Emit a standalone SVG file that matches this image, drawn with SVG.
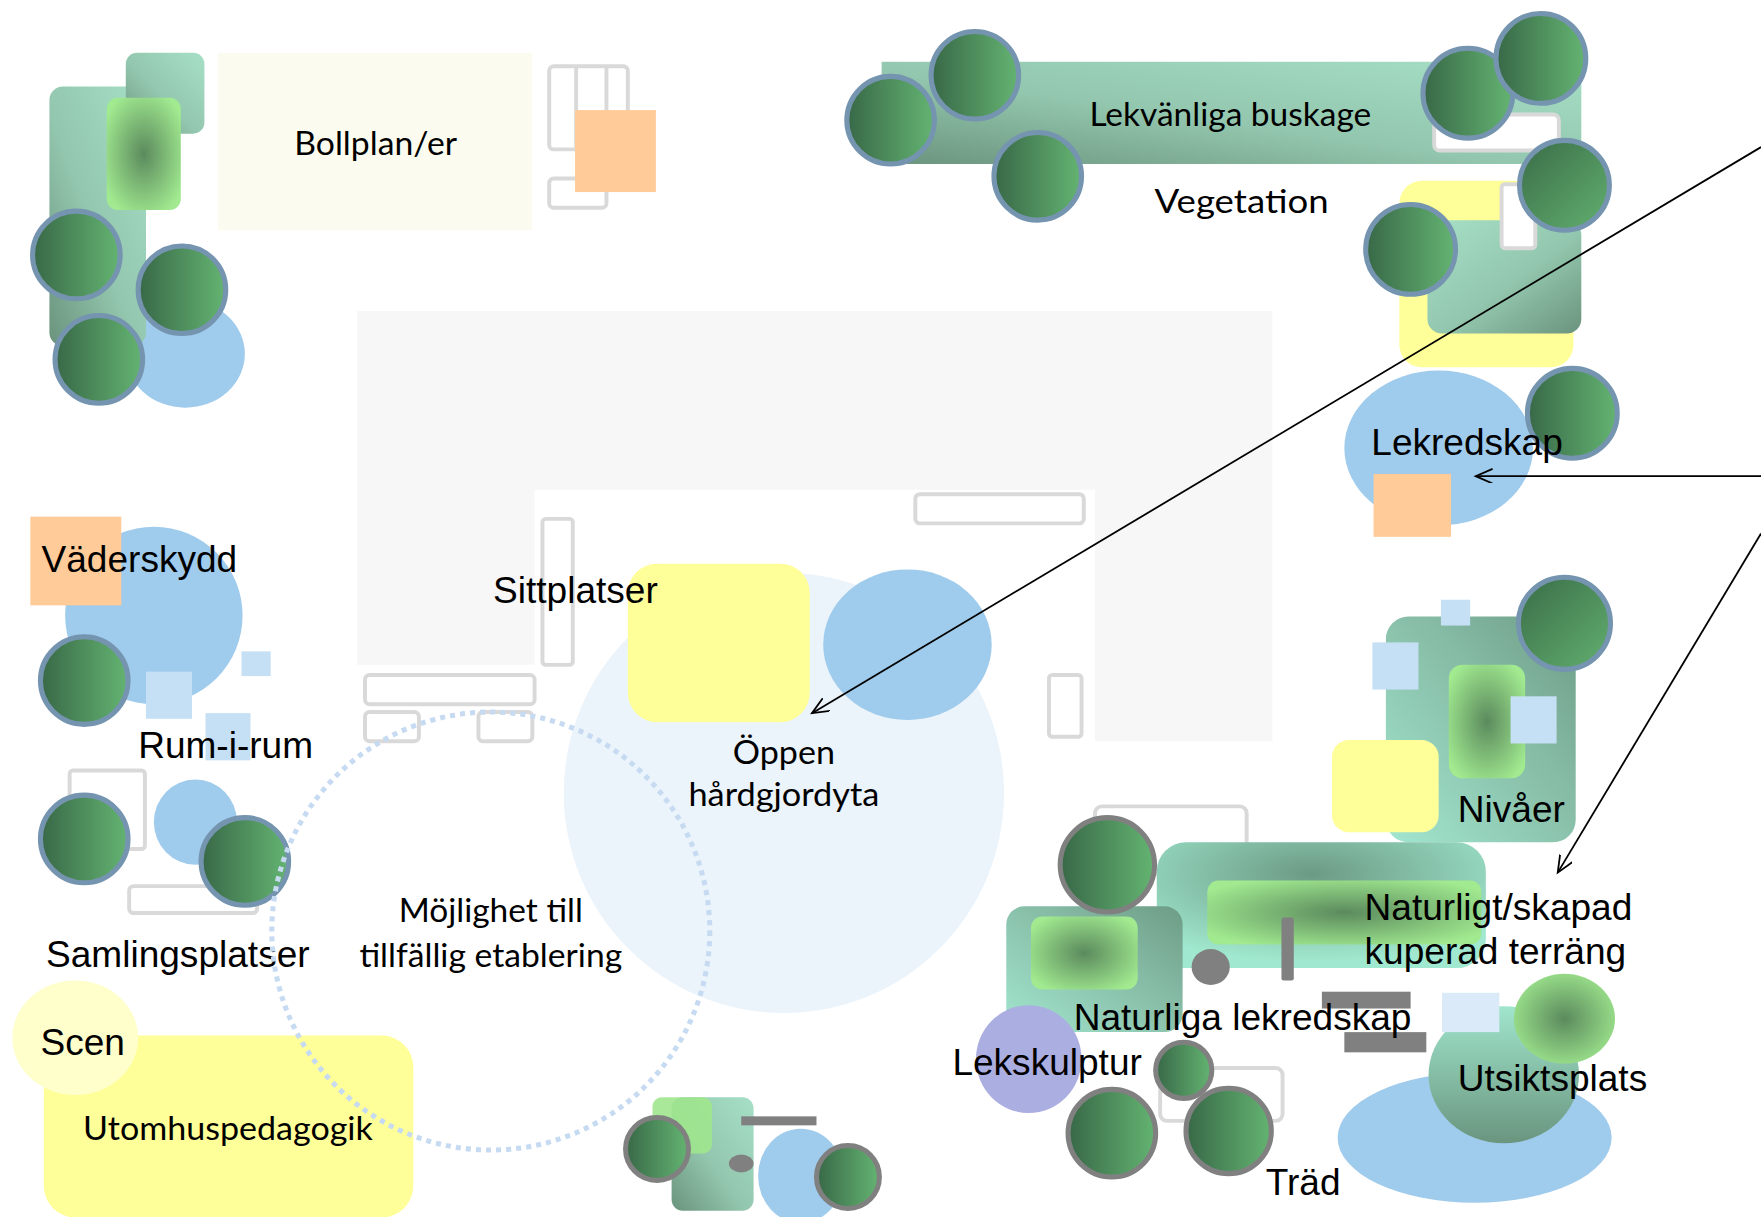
<svg xmlns="http://www.w3.org/2000/svg" width="1761" height="1217" viewBox="0 0 1761 1217">
<defs>
<linearGradient id="treeH" x1="0" y1="0" x2="1" y2="0"><stop offset="0" stop-color="#386847"/><stop offset="1" stop-color="#64b472"/></linearGradient>
<linearGradient id="treeD" x1="0" y1="0" x2="1" y2="1"><stop offset="0" stop-color="#3a6c47"/><stop offset="1" stop-color="#62b070"/></linearGradient>
<linearGradient id="mintTR" x1="1" y1="0" x2="0" y2="1"><stop offset="0" stop-color="#a6e0c7"/><stop offset="0.55" stop-color="#93c6ae"/><stop offset="1" stop-color="#6a937c"/></linearGradient>
<linearGradient id="mintTL" x1="0" y1="0" x2="1" y2="1"><stop offset="0" stop-color="#a6e0c7"/><stop offset="0.55" stop-color="#93c6ae"/><stop offset="1" stop-color="#6a937c"/></linearGradient>
<linearGradient id="mintBL" x1="0" y1="1" x2="1" y2="0"><stop offset="0" stop-color="#a2e6cf"/><stop offset="0.6" stop-color="#86bba5"/><stop offset="1" stop-color="#6d9c86"/></linearGradient>
<linearGradient id="mintV" x1="0" y1="0" x2="0" y2="1"><stop offset="0" stop-color="#a0e5cc"/><stop offset="1" stop-color="#6a957f"/></linearGradient>
<radialGradient id="greenRad" cx="0.5" cy="0.5" r="0.6"><stop offset="0" stop-color="#5b8a5d"/><stop offset="1" stop-color="#a1ea90"/></radialGradient>
<radialGradient id="mintRad" cx="0.47" cy="0.25" r="0.7"><stop offset="0" stop-color="#6c9a84"/><stop offset="1" stop-color="#a0e8cf"/></radialGradient>
<marker id="arr" markerUnits="userSpaceOnUse" markerWidth="18" markerHeight="14" refX="15" refY="6.5" orient="auto"><path d="M0,0 L15,6.5 L0,13" fill="none" stroke="#000" stroke-width="1.6"/></marker>
<style>
.tree{fill:url(#treeH);stroke:#7594b0;stroke-width:4.5}
.treed{fill:url(#treeD);stroke:#7594b0;stroke-width:4.5}
.treeg{fill:url(#treeH);stroke:#808080;stroke-width:4.5}
.out{fill:#fff;stroke:#d9d9d9;stroke-width:3.5}
.blue{fill:#9fcbec}
.lb{fill:#c5dff4}
.yel{fill:#ffff99}
.org{fill:#ffcc99}
.bar{fill:#808080}
.a{font-family:"Liberation Sans",Arial,sans-serif;font-size:33px;fill:#000}
.g{font-family:Lato,"Gill Sans","Open Sans",sans-serif;font-size:30px;fill:#000}
.conn{stroke:#000;stroke-width:1.6;fill:none;marker-end:url(#arr)}
</style>
</defs>
<rect width="1761" height="1217" fill="#fff"/>
<g transform="scale(1.12309)">
<g id="hardyta-bakgrund"><path d="M318,277 H1133 V660 H975 V436 H476 V592 H318 Z" fill="#f7f7f7"/></g>

<g id="vegetation-vanster">
<ellipse class="blue" cx="165" cy="315" rx="53" ry="48"/>
<rect x="44" y="77" width="86" height="231" rx="12" fill="url(#mintTR)"/>
<rect x="112" y="47" width="70" height="72" rx="10" fill="url(#mintTR)"/>
<rect x="95" y="87" width="66" height="100" rx="10" fill="url(#greenRad)"/>
<circle class="tree" cx="68" cy="227" r="39"/>
<circle class="tree" cx="162" cy="258" r="39"/>
<circle class="tree" cx="88" cy="320" r="39"/>
</g>

<g id="bollplan">
<rect x="194" y="47" width="280" height="158" fill="#fbfcef"/>
<text class="g" x="262" y="138" textLength="145" lengthAdjust="spacingAndGlyphs">Bollplan/er</text>
</g>

<g id="bankar-bollplan">
<rect class="out" x="489" y="59" width="70" height="74" rx="4"/>
<line x1="513" y1="59" x2="513" y2="133" stroke="#d9d9d9" stroke-width="3.5"/>
<line x1="540" y1="59" x2="540" y2="133" stroke="#d9d9d9" stroke-width="3.5"/>
<rect class="out" x="489" y="159" width="51" height="26" rx="4"/>
<rect class="org" x="512" y="98" width="72" height="73"/>
</g>

<g id="lekvanliga-buskage">
<rect x="785" y="55" width="623" height="91" fill="url(#mintTR)"/>
<rect class="out" x="1277" y="102" width="111" height="32" rx="5"/>
<rect class="yel" x="1246" y="161" width="155" height="166" rx="20"/>
<rect x="1271" y="196" width="137" height="101" rx="13" fill="url(#mintTL)"/>
<rect class="out" x="1337" y="164" width="30" height="57" rx="3"/>
<circle class="tree" cx="793" cy="107" r="39"/>
<circle class="tree" cx="868" cy="67" r="39"/>
<circle class="tree" cx="924" cy="157" r="39"/>
<circle class="tree" cx="1307" cy="83" r="40"/>
<circle class="tree" cx="1372" cy="52" r="40"/>
<circle class="treed" cx="1393" cy="165" r="40"/>
<circle class="tree" cx="1256" cy="222" r="40"/>
<text class="g" x="970" y="112" textLength="251" lengthAdjust="spacingAndGlyphs">Lekvänliga buskage</text>
<text class="g" x="1028" y="190" textLength="155" lengthAdjust="spacingAndGlyphs">Vegetation</text>
</g>

<g id="lekredskap">
<ellipse class="blue" cx="1281" cy="399" rx="84" ry="69"/>
<rect class="org" x="1223" y="422" width="69" height="56"/>
<circle class="tree" cx="1400" cy="368" r="40"/>
<text class="a" x="1221" y="405">Lekredskap</text>
</g>

<g id="oppen-hardgjordyta">
<circle cx="698" cy="706" r="196" fill="#ebf3fb"/>
<rect class="yel" x="559" y="502" width="162" height="141" rx="26"/>
<ellipse class="blue" cx="808" cy="574" rx="75" ry="67"/>
<text class="g" x="698" y="680" text-anchor="middle" font-size="28" textLength="91" lengthAdjust="spacingAndGlyphs">Öppen</text>
<text class="g" x="698" y="718" text-anchor="middle" font-size="28" textLength="170" lengthAdjust="spacingAndGlyphs">hårdgjordyta</text>
</g>

<g id="sittplatser">
<rect class="out" x="483" y="462" width="27" height="130" rx="3"/>
<rect class="out" x="325" y="601" width="151" height="26" rx="4"/>
<rect class="out" x="325" y="634" width="48" height="26" rx="4"/>
<rect class="out" x="426" y="634" width="48" height="26" rx="4"/>
<rect class="out" x="815" y="440" width="150" height="26" rx="4"/>
<rect class="out" x="934" y="601" width="29" height="55" rx="3"/>
<text class="a" x="439" y="537">Sittplatser</text>
</g>

<g id="vaderskydd">
<circle class="blue" cx="137" cy="548" r="79"/>
<rect class="org" x="27" y="460" width="81" height="79"/>
<circle class="tree" cx="75" cy="606" r="39"/>
<text class="a" x="37" y="509">Väderskydd</text>
</g>

<g id="rum-i-rum">
<rect class="lb" x="130" y="598" width="41" height="42"/>
<rect class="lb" x="215" y="580" width="26" height="22"/>
<rect class="lb" x="183" y="635" width="40" height="42"/>
<text class="a" x="123" y="675">Rum-i-rum</text>
</g>

<g id="samlingsplatser">
<rect class="out" x="62" y="686" width="67" height="70" rx="3"/>
<rect class="out" x="115" y="789" width="114" height="24" rx="4"/>
<ellipse class="blue" cx="174" cy="732" rx="37" ry="38"/>
<circle class="tree" cx="75" cy="747" r="39"/>
<circle class="tree" cx="218" cy="767" r="39"/>
<text class="a" x="41" y="861">Samlingsplatser</text>
</g>

<g id="scen-utomhuspedagogik">
<rect class="yel" x="39" y="922" width="329" height="162" rx="28"/>
<ellipse cx="67" cy="924" rx="56" ry="51" fill="#ffffcc"/>
<text class="a" x="36" y="939">Scen</text>
<text class="g" x="74" y="1015" textLength="258" lengthAdjust="spacingAndGlyphs">Utomhuspedagogik</text>
</g>

<g id="mojlighet-etablering">
<circle cx="437" cy="829" r="195" fill="none" stroke="#c6dbf1" stroke-width="4.5" stroke-dasharray="4.5 4.5"/>
<text class="g" x="437" y="821" text-anchor="middle" textLength="164" lengthAdjust="spacingAndGlyphs">Möjlighet till</text>
<text class="g" x="437" y="861" text-anchor="middle" textLength="234" lengthAdjust="spacingAndGlyphs">tillfällig etablering</text>
</g>

<g id="grupp-nedre-mitten">
<rect x="598" y="977" width="73" height="101" rx="10" fill="url(#mintTR)"/>
<rect x="581" y="977" width="53" height="50" rx="8" fill="#9fe58d" opacity="0.9"/>
<rect class="bar" x="660" y="994" width="67" height="8"/>
<ellipse class="bar" cx="660" cy="1036" rx="11" ry="8"/>
<ellipse class="blue" cx="713" cy="1047" rx="38" ry="42"/>
<circle class="treeg" cx="585" cy="1023" r="28"/>
<circle class="treeg" cx="755" cy="1048" r="28"/>
</g>

<g id="nivaer">
<rect x="1234" y="549" width="169" height="201" rx="20" fill="url(#mintBL)"/>
<rect class="lb" x="1283" y="534" width="26" height="23"/>
<rect class="lb" x="1222" y="572" width="41" height="42"/>
<rect x="1290" y="592" width="68" height="101" rx="12" fill="url(#greenRad)"/>
<rect class="lb" x="1345" y="620" width="41" height="42"/>
<rect class="yel" x="1186" y="659" width="95" height="82" rx="15"/>
<circle class="treed" cx="1393" cy="555" r="41"/>
<text class="a" x="1298" y="732">Nivåer</text>
</g>

<g id="kuperad-terrang">
<rect class="out" x="975" y="718" width="135" height="60" rx="6"/>
<rect x="1030" y="750" width="293" height="112" rx="26" fill="url(#mintRad)"/>
<rect x="1075" y="784" width="244" height="57" rx="10" fill="url(#greenRad)"/>
<rect class="bar" x="1141" y="817" width="11" height="56" rx="2"/>
<ellipse class="bar" cx="1078" cy="861" rx="17" ry="16"/>
<text class="a" x="1215" y="819">Naturligt/skapad</text>
<text class="a" x="1215" y="858">kuperad terräng</text>
</g>

<g id="naturliga-lekredskap">
<rect x="896" y="807" width="157" height="112" rx="16" fill="url(#mintBL)"/>
<rect x="918" y="816" width="95" height="65" rx="10" fill="url(#greenRad)"/>
<circle class="treeg" cx="986" cy="770" r="42"/>
<rect class="bar" x="1177" y="883" width="79" height="15"/>
<rect class="bar" x="1197" y="919" width="73" height="18"/>
<text class="a" x="956" y="917">Naturliga lekredskap</text>
</g>

<g id="lekskulptur">
<ellipse cx="916" cy="943" rx="47" ry="48" fill="#abaee0"/>
<text class="a" x="848" y="957">Lekskulptur</text>
</g>

<g id="trad">
<rect class="out" x="1033" y="951" width="109" height="47" rx="6"/>
<circle class="treeg" cx="1054" cy="953" r="25"/>
<circle class="treeg" cx="990" cy="1009" r="39"/>
<circle class="treeg" cx="1094" cy="1007" r="38"/>
<text class="a" x="1127" y="1064">Träd</text>
</g>

<g id="utsiktsplats">
<ellipse class="blue" cx="1313" cy="1013" rx="122" ry="58"/>
<ellipse cx="1339" cy="957" rx="67" ry="61" fill="url(#mintV)"/>
<rect x="1284" y="884" width="51" height="35" fill="#dbeaf8"/>
<ellipse cx="1393" cy="907" rx="45" ry="40" fill="url(#greenRad)"/>
<text class="a" x="1298" y="971">Utsiktsplats</text>
</g>

<g id="connectors">
<line class="conn" x1="1568" y1="131" x2="723" y2="635"/>
<line class="conn" x1="1568" y1="424" x2="1314" y2="424"/>
<line class="conn" x1="1568" y1="475" x2="1387" y2="777"/>
</g>
</g>
</svg>
